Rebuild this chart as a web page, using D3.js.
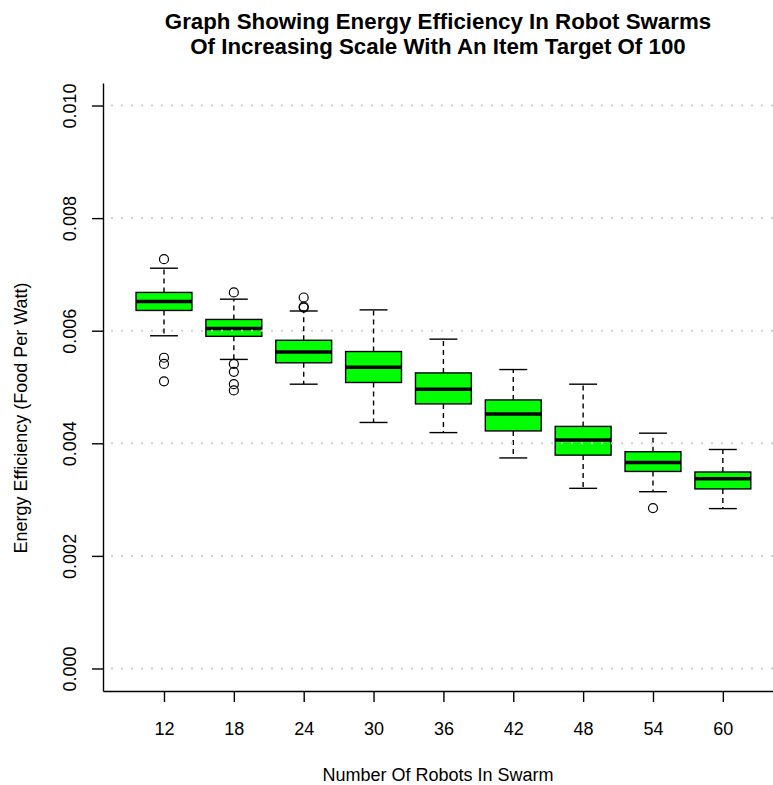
<!DOCTYPE html>
<html>
<head>
<meta charset="utf-8">
<script src="https://cdn.jsdelivr.net/npm/d3@7"></script>
<style>
  html, body { margin: 0; padding: 0; background: #fff; }
  svg { display: block; font-family: "Liberation Sans", Arial, Helvetica, sans-serif; }
</style>
</head>
<body>
<svg id="chart" width="773" height="785"></svg>
<script>
// ---- data ----
const categories = ["12", "18", "24", "30", "36", "42", "48", "54", "60"];
const whiskerLow  = [0.00591, 0.00549, 0.00505, 0.00437, 0.00419, 0.00374, 0.00320, 0.00314, 0.00284];
const q1          = [0.00636, 0.00590, 0.00543, 0.00508, 0.00470, 0.00422, 0.00379, 0.00350, 0.00319];
const medians     = [0.00652, 0.00604, 0.00562, 0.00535, 0.00496, 0.00452, 0.00406, 0.00366, 0.00337];
const q3          = [0.00668, 0.00620, 0.00583, 0.00563, 0.00525, 0.00477, 0.00430, 0.00385, 0.00349];
const whiskerHigh = [0.00711, 0.00656, 0.00635, 0.00637, 0.00585, 0.00531, 0.00505, 0.00418, 0.00389];
const outliers    = [
  [0.00727, 0.00552, 0.00541, 0.00510],
  [0.00668, 0.00541, 0.00527, 0.00505, 0.00494],
  [0.00659, 0.00643, 0.00641],
  [], [], [], [],
  [0.00285],
  []
];
const yTicks = [0.000, 0.002, 0.004, 0.006, 0.008, 0.010];
const titleLines = ["Graph Showing Energy Efficiency In Robot Swarms", "Of Increasing Scale With An Item Target Of 100"];
const xTitle = "Number Of Robots In Swarm";
const yTitle = "Energy Efficiency (Food Per Watt)";

// ---- layout ----
const svg = d3.select("#chart");
const plot = { left: 103, right: 773, top: 83, bottom: 691 };

const x = d3.scaleLinear().domain([-0.873, 8.718]).range([plot.left, plot.right]);
const y = d3.scaleLinear().domain([-0.0004, 0.0104]).range([plot.bottom, plot.top]);
const step = x(1) - x(0);
const boxW = step * 0.8;
const capW = boxW * 0.5;

const data = categories.map((c, i) => ({
  c, i, lo: whiskerLow[i], q1: q1[i], med: medians[i], q3: q3[i], hi: whiskerHigh[i], out: outliers[i]
}));

// boxes
const g = svg.append("g");
const bx = g.selectAll("g.box").data(data).join("g").attr("class", "box");

// whiskers (dashed)
bx.append("line")
  .attr("x1", d => x(d.i)).attr("x2", d => x(d.i))
  .attr("y1", d => y(d.q3)).attr("y2", d => y(d.hi))
  .attr("stroke", "#000").attr("stroke-width", 1.4).attr("stroke-dasharray", "5,4");
bx.append("line")
  .attr("x1", d => x(d.i)).attr("x2", d => x(d.i))
  .attr("y1", d => y(d.q1)).attr("y2", d => y(d.lo))
  .attr("stroke", "#000").attr("stroke-width", 1.4).attr("stroke-dasharray", "5,4");
// caps
bx.append("line")
  .attr("x1", d => x(d.i) - capW / 2).attr("x2", d => x(d.i) + capW / 2)
  .attr("y1", d => y(d.hi)).attr("y2", d => y(d.hi))
  .attr("stroke", "#000").attr("stroke-width", 1.4);
bx.append("line")
  .attr("x1", d => x(d.i) - capW / 2).attr("x2", d => x(d.i) + capW / 2)
  .attr("y1", d => y(d.lo)).attr("y2", d => y(d.lo))
  .attr("stroke", "#000").attr("stroke-width", 1.4);
// box
bx.append("rect")
  .attr("x", d => x(d.i) - boxW / 2).attr("width", boxW)
  .attr("y", d => y(d.q3)).attr("height", d => y(d.q1) - y(d.q3))
  .attr("fill", "#00ff00").attr("stroke", "#000").attr("stroke-width", 1.4);
// median
bx.append("line")
  .attr("x1", d => x(d.i) - boxW / 2).attr("x2", d => x(d.i) + boxW / 2)
  .attr("y1", d => y(d.med)).attr("y2", d => y(d.med))
  .attr("stroke", "#000").attr("stroke-width", 3.5);
// outliers
bx.selectAll("circle").data(d => d.out.map(v => ({ i: d.i, v }))).join("circle")
  .attr("cx", d => x(d.i)).attr("cy", d => y(d.v)).attr("r", 4.5)
  .attr("fill", "none").attr("stroke", "#000").attr("stroke-width", 1.2);

// grid (dotted, drawn on top like the reference)
svg.append("g").selectAll("line").data(yTicks).join("line")
  .attr("x1", 111).attr("x2", plot.right)
  .attr("y1", d => y(d)).attr("y2", d => y(d))
  .attr("stroke", "#cfcfcf").attr("stroke-width", 2).attr("stroke-dasharray", "2,8");

// axes
const yAxis = svg.append("g").attr("transform", `translate(${plot.left},0)`)
  .call(d3.axisLeft(y).tickValues(yTicks).tickSize(11).tickSizeOuter(0).tickFormat(d3.format(".3f")));
yAxis.selectAll("text")
  .attr("transform", "rotate(-90)").attr("x", 0).attr("y", -27).attr("dy", null)
  .attr("text-anchor", "middle").attr("font-size", 18).attr("fill", "#000")
  .attr("font-family", "Liberation Sans, Arial, Helvetica, sans-serif");

const xAxis = svg.append("g").attr("transform", `translate(0,${plot.bottom})`)
  .call(d3.axisBottom(x).tickValues(d3.range(categories.length)).tickSize(11).tickSizeOuter(0)
    .tickFormat(i => categories[i]));
xAxis.selectAll("text")
  .attr("y", 44).attr("dy", null).attr("font-size", 18).attr("fill", "#000")
  .attr("font-family", "Liberation Sans, Arial, Helvetica, sans-serif");

svg.selectAll(".domain, .tick line").attr("stroke", "#000").attr("stroke-width", 1.4);

// titles
const cx = (plot.left + plot.right) / 2;
svg.append("g").selectAll("text").data(titleLines).join("text")
  .attr("x", cx).attr("y", (d, i) => 28.5 + i * 25)
  .attr("text-anchor", "middle").attr("font-weight", "bold").attr("font-size", 22.3)
  .text(d => d);

svg.append("text").attr("x", cx).attr("y", 781)
  .attr("text-anchor", "middle").attr("font-size", 18).text(xTitle);

svg.append("text")
  .attr("transform", `translate(27,418) rotate(-90)`)
  .attr("text-anchor", "middle").attr("font-size", 18).text(yTitle);
</script>
</body>
</html>
